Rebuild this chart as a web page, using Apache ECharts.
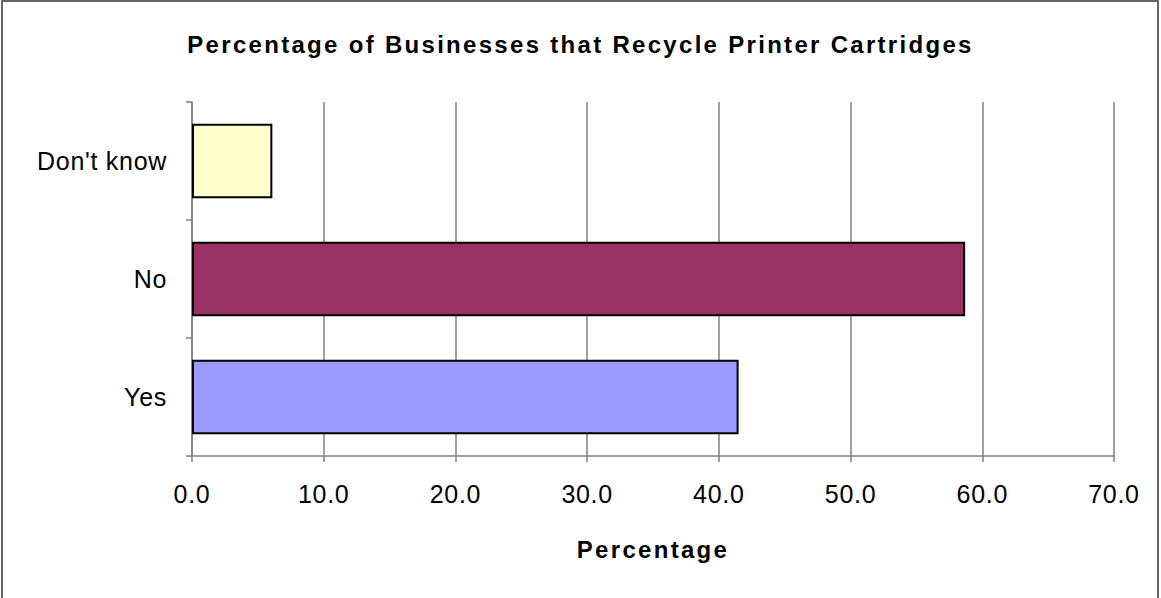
<!DOCTYPE html>
<html>
<head>
<meta charset="utf-8">
<script src="https://cdn.jsdelivr.net/npm/echarts@6/dist/echarts.min.js"></script>
<style>
  html, body { margin: 0; padding: 0; background: #fff; }
  #chart { width: 1161px; height: 598px; }
  /* the reference text is spread out, so widen it a bit (svg renderer) */
  #chart text { letter-spacing: 0.7px; }
  #chart text[style*="bold"] { letter-spacing: 2.3px; }
</style>
</head>
<body>
<div id="chart"></div>
<script>
// data
const categories = ["Yes", "No", "Don't know"];
const percentages = [41.5, 58.7, 6.1];
const barColors = ["#9999FF", "#993366", "#FFFFCC"];
const xTicks = { min: 0, max: 70, interval: 10 };

const chart = echarts.init(document.getElementById("chart"), null, { renderer: "svg" });

const font = "Liberation Sans, Arial, sans-serif";

const option = {
  animation: false,
  backgroundColor: "#fff",
  title: {
    text: "Percentage of Businesses that Recycle Printer Cartridges",
    left: "center",
    top: 27,
    textStyle: { fontFamily: font, fontSize: 24, fontWeight: "bold", color: "#000" }
  },
  graphic: [
    {
      type: "rect",
      shape: { x: 2, y: 1, width: 1156, height: 610 },
      style: { fill: "none", stroke: "#333", lineWidth: 1.5 },
      silent: true
    }
  ],
  grid: { left: 192, right: 47, top: 102, bottom: 142 },
  xAxis: {
    type: "value",
    min: xTicks.min,
    max: xTicks.max,
    interval: xTicks.interval,
    name: "Percentage",
    nameLocation: "middle",
    nameGap: 81,
    nameTextStyle: { fontFamily: font, fontSize: 24, fontWeight: "bold", color: "#000" },
    axisLine: { show: true, lineStyle: { color: "#808080", width: 1.5 } },
    axisTick: { show: true, length: 6, lineStyle: { color: "#808080", width: 1.5 } },
    axisLabel: {
      formatter: (v) => v.toFixed(1),
      fontFamily: font,
      fontSize: 25,
      color: "#000",
      margin: 25
    },
    splitLine: { show: true, lineStyle: { color: "#808080", width: 1.5 } }
  },
  yAxis: {
    type: "category",
    data: categories,
    axisLine: { show: true, lineStyle: { color: "#808080", width: 1.5 } },
    axisTick: { show: true, length: 6, lineStyle: { color: "#808080", width: 1.5 } },
    axisLabel: { fontFamily: font, fontSize: 25, color: "#000", margin: 25 }
  },
  series: [
    {
      type: "bar",
      data: percentages.map((v, i) => ({ value: v, itemStyle: { color: barColors[i] } })),
      barCategoryGap: "37%",
      itemStyle: { borderColor: "#000", borderWidth: 2 }
    }
  ]
};

chart.setOption(option);
</script>
</body>
</html>
